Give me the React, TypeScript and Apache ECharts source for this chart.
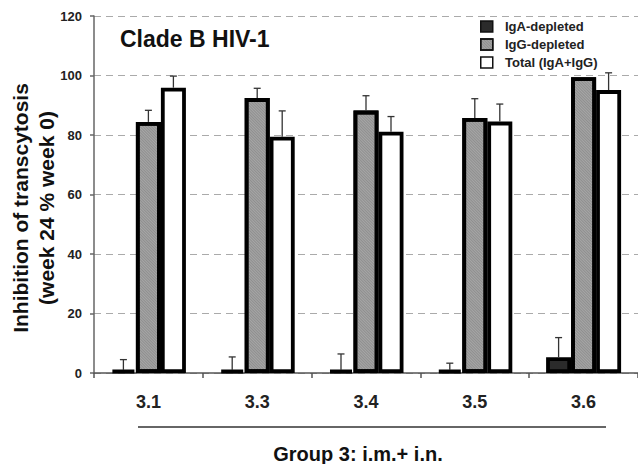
import React, { useEffect, useRef } from "react";
import * as echarts from "echarts";

const categories = ["3.1", "3.3", "3.4", "3.5", "3.6"];
const seriesNames = ["IgA-depleted", "IgG-depleted", "Total (IgA+IgG)"];
const igaValues = [1, 1, 1, 1, 5.3];
const igaErrors = [3.5, 4.4, 5.4, 2.3, 6.6];
const iggValues = [84.4, 92.4, 88.2, 85.7, 99.4];
const iggErrors = [3.9, 3.3, 5.0, 6.5, 0];
const totalValues = [95.9, 79.4, 81.1, 84.5, 95.1];
const totalErrors = [3.9, 8.7, 5.1, 5.9, 5.8];
const yTicks = { min: 0, max: 120, interval: 20 };

const FONT = 'Arial, "Liberation Sans", sans-serif';
const BAR_W = 25;

function errorSeries(values: number[], errors: number[], offset: number) {
  return {
    type: "custom",
    z: 5,
    silent: true,
    data: values.map((v, i) => [i, v, v + errors[i]]),
    renderItem: (params: any, api: any) => {
      const idx = api.value(0);
      const base = api.coord([idx, api.value(1)]);
      const top = api.coord([idx, api.value(2)]);
      if (Math.abs(base[1] - top[1]) < 0.5) return { type: "group", children: [] };
      const x = base[0] + offset;
      const style = { stroke: "#333", lineWidth: 1.3 };
      return {
        type: "group",
        children: [
          { type: "line", shape: { x1: x, y1: base[1], x2: x, y2: top[1] }, style },
          { type: "line", shape: { x1: x - 3.5, y1: top[1], x2: x + 3.5, y2: top[1] }, style },
        ],
      };
    },
  };
}

export default function App() {
  const ref = useRef<HTMLDivElement>(null);
  useEffect(() => {
    if (!ref.current) return;
    const chart = echarts.init(ref.current, null, { renderer: "svg" });
    const barBase = {
      type: "bar",
      barWidth: BAR_W,
      barGap: "0%",
      z: 3,
    };
    chart.setOption({
      animation: false,
      backgroundColor: "#fff",
      textStyle: { fontFamily: FONT },
      grid: { left: 94, top: 16, width: 550, bottom: 91, containLabel: false },
      legend: {
        data: seriesNames,
        orient: "vertical",
        left: 480,
        top: 20,
        padding: 0,
        itemWidth: 12,
        itemHeight: 11,
        itemGap: 5,
        icon: "rect",
        itemStyle: { borderColor: "#111", borderWidth: 1.5 },
        formatter: (name: string) => "  " + name,
        textStyle: { fontFamily: FONT, fontWeight: "bold", fontSize: 13, color: "#222" },
        selectedMode: false,
      },
      xAxis: {
        type: "category",
        data: categories,
        axisLine: { lineStyle: { color: "#555", width: 1.5 } },
        axisTick: { show: true, length: 5, lineStyle: { color: "#555", width: 1.5 } },
        axisLabel: { fontFamily: FONT, fontWeight: "bold", fontSize: 18, color: "#222", margin: 20 },
      },
      yAxis: {
        type: "value",
        min: yTicks.min,
        max: yTicks.max,
        interval: yTicks.interval,
        axisLine: { show: true, lineStyle: { color: "#666", width: 1.5 } },
        axisTick: { show: true, length: 4, lineStyle: { color: "#666", width: 1.5 } },
        axisLabel: { fontFamily: FONT, fontWeight: "bold", fontSize: 13, color: "#222", margin: 12 },
        splitLine: { show: true, lineStyle: { color: "#aaa", type: [7, 5], width: 1.2 } },
      },
      series: [
        {
          ...barBase,
          name: seriesNames[0],
          data: igaValues,
          itemStyle: { color: "#2b2b2b", borderColor: "#000", borderWidth: 3.8 },
        },
        {
          ...barBase,
          name: seriesNames[1],
          data: iggValues,
          itemStyle: {
            color: "#a6a6a6",
            borderColor: "#000",
            borderWidth: 3.8,
            decal: {
              symbol: "rect",
              symbolSize: 1,
              color: "rgba(90,90,90,0.3)",
              dashArrayX: [1, 0],
              dashArrayY: [1, 1],
              rotation: Math.PI / 4,
            },
          },
        },
        {
          ...barBase,
          name: seriesNames[2],
          data: totalValues,
          itemStyle: { color: "#fff", borderColor: "#000", borderWidth: 3.8 },
        },
        errorSeries(igaValues, igaErrors, -BAR_W),
        errorSeries(iggValues, iggErrors, 0),
        errorSeries(totalValues, totalErrors, BAR_W),
      ],
      graphic: [
        {
          type: "text",
          left: 120,
          top: 27,
          style: { text: "Clade B HIV-1", font: `bold 23px ${FONT}`, fill: "#111" },
        },
        {
          type: "text",
          x: 20,
          y: 208,
          rotation: Math.PI / 2,
          style: {
            text: "Inhibition of transcytosis",
            font: `bold 21px ${FONT}`,
            fill: "#111",
            textAlign: "center",
            textVerticalAlign: "middle",
          },
        },
        {
          type: "text",
          x: 46,
          y: 208,
          rotation: Math.PI / 2,
          style: {
            text: "(week 24 % week 0)",
            font: `bold 21px ${FONT}`,
            fill: "#111",
            textAlign: "center",
            textVerticalAlign: "middle",
          },
        },
        {
          type: "line",
          shape: { x1: 138, y1: 427, x2: 606, y2: 427 },
          style: { stroke: "#333", lineWidth: 1.5 },
        },
        {
          type: "text",
          x: 358,
          y: 454,
          style: {
            text: "Group 3: i.m.+ i.n.",
            font: `bold 20px ${FONT}`,
            fill: "#111",
            textAlign: "center",
            textVerticalAlign: "middle",
          },
        },
      ],
    });
    return () => chart.dispose();
  }, []);
  return (
    <div
      ref={ref}
      style={{ position: "fixed", left: 0, top: 0, width: 638, height: 464 }}
    />
  );
}
